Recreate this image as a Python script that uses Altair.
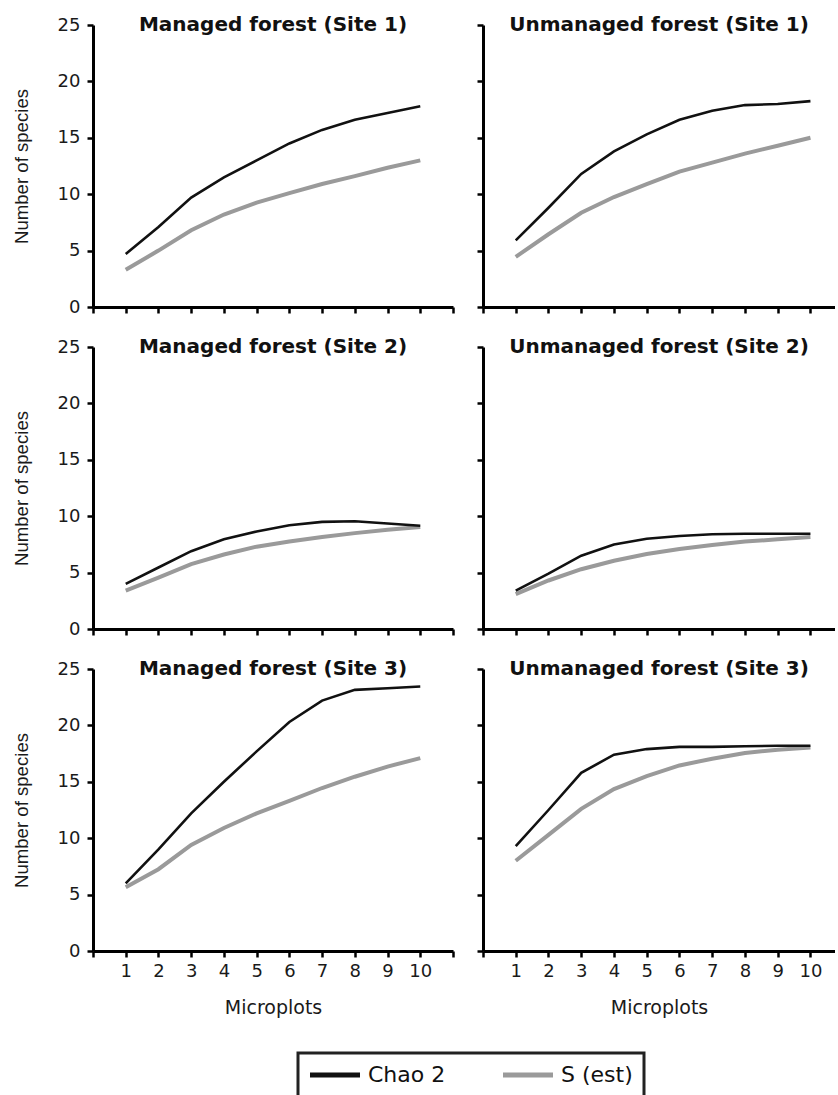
import altair as alt
import pandas as pd

microplots = list(range(1, 11))
series = ["Chao 2", "S (est)"]
series_colors = ["#111111", "#9a9a9a"]

panel_titles = [
    "Managed forest (Site 1)", "Unmanaged forest (Site 1)",
    "Managed forest (Site 2)", "Unmanaged forest (Site 2)",
    "Managed forest (Site 3)", "Unmanaged forest (Site 3)",
]

chao2_m1 = [4.7, 7.1, 9.7, 11.5, 13.0, 14.5, 15.7, 16.6, 17.2, 17.8]
sest_m1 = [3.3, 5.0, 6.8, 8.2, 9.25, 10.1, 10.9, 11.6, 12.35, 13.0]
chao2_u1 = [5.9, 8.8, 11.8, 13.8, 15.3, 16.6, 17.4, 17.9, 18.0, 18.25]
sest_u1 = [4.45, 6.45, 8.35, 9.75, 10.9, 12.0, 12.8, 13.6, 14.3, 15.0]
chao2_m2 = [4.0, 5.45, 6.9, 7.95, 8.65, 9.2, 9.5, 9.55, 9.35, 9.15]
sest_m2 = [3.4, 4.55, 5.75, 6.6, 7.3, 7.75, 8.15, 8.5, 8.8, 9.05]
chao2_u2 = [3.4, 4.9, 6.5, 7.5, 8.0, 8.25, 8.4, 8.45, 8.45, 8.45]
sest_u2 = [3.1, 4.3, 5.3, 6.05, 6.65, 7.1, 7.45, 7.75, 7.95, 8.15]
chao2_m3 = [6.0, 9.0, 12.2, 15.0, 17.7, 20.3, 22.2, 23.15, 23.3, 23.45]
sest_m3 = [5.65, 7.25, 9.4, 10.9, 12.2, 13.3, 14.45, 15.45, 16.35, 17.1]
chao2_u3 = [9.3, 12.5, 15.8, 17.4, 17.9, 18.1, 18.1, 18.15, 18.2, 18.2]
sest_u3 = [8.0, 10.3, 12.6, 14.35, 15.5, 16.45, 17.05, 17.55, 17.85, 18.05]

chao2_all = [chao2_m1, chao2_u1, chao2_m2, chao2_u2, chao2_m3, chao2_u3]
sest_all = [sest_m1, sest_u1, sest_m2, sest_u2, sest_m3, sest_u3]

y_ticks = [0, 5, 10, 15, 20, 25]
x_ticks = list(range(0, 12))


def panel(idx):
    row, col = divmod(idx, 2)
    left = col == 0
    bottom = row == 2
    w = 360 if left else 352
    df = pd.DataFrame({
        "Microplots": microplots * 2,
        "value": chao2_all[idx] + sest_all[idx],
        "series": [series[0]] * 10 + [series[1]] * 10,
    })
    xdom = [0, 11] if left else [0, 10.75]
    xaxis = alt.Axis(
        values=x_ticks if left else x_ticks[:11],
        labels=bottom,
        labelExpr="datum.value >= 1 && datum.value <= 10 ? datum.label : ''",
        title="Microplots" if bottom else None,
    )
    yaxis = alt.Axis(
        values=y_ticks,
        labels=left,
        title="Number of species" if left else None,
    )
    enc = dict(
        x=alt.X("Microplots:Q", scale=alt.Scale(domain=xdom, nice=False, zero=False), axis=xaxis),
        y=alt.Y("value:Q", scale=alt.Scale(domain=[0, 25], nice=False), axis=yaxis),
        color=alt.Color("series:N", scale=alt.Scale(domain=series, range=series_colors), title=None),
    )
    grey = alt.Chart(df).transform_filter(alt.datum.series == series[1]).mark_line(strokeWidth=4).encode(**enc)
    black = alt.Chart(df).transform_filter(alt.datum.series == series[0]).mark_line(strokeWidth=2.6).encode(**enc)
    title = alt.Chart(pd.DataFrame({"t": [panel_titles[idx]]})).mark_text(
        font="DejaVu Sans", fontSize=20, fontWeight="bold", color="#111111",
        align="center", baseline="alphabetic",
    ).encode(text="t:N", x=alt.value(w / 2), y=alt.value(6))
    return alt.layer(grey, black, title).properties(width=w, height=282)


rows = [alt.hconcat(panel(2 * r), panel(2 * r + 1), spacing=20) for r in range(3)]
chart = alt.vconcat(*rows, spacing=21).properties(
    padding={"left": 12, "top": 15, "right": 0, "bottom": 0}
).configure_view(stroke=None).configure_axis(
    grid=False, domainColor="#000000", domainWidth=3, tickColor="#000000",
    tickWidth=2.5, tickSize=6, labelFont="DejaVu Sans", labelFontSize=18,
    labelColor="#1a1a1a", titleColor="#1a1a1a", titleFontWeight="normal",
).configure_axisY(
    titleFont="Liberation Sans", titleFontSize=18.6,
    titlePadding=26, labelPadding=7,
).configure_axisX(
    titleFont="DejaVu Sans", titleFontSize=19, titlePadding=18, labelPadding=5,
).configure_legend(
    orient="none", legendX=205, legendY=1028, direction="horizontal",
    strokeColor="#222222", strokeWidth=3, padding=11,
    symbolType="M-2,0H8", symbolStrokeWidth=5, symbolSize=100,
    labelFont="DejaVu Sans", labelFontSize=22, labelColor="#111111",
    labelOffset=37, columnPadding=47,
)

chart.save("out.html", embed_options={"renderer": "svg", "actions": False})
